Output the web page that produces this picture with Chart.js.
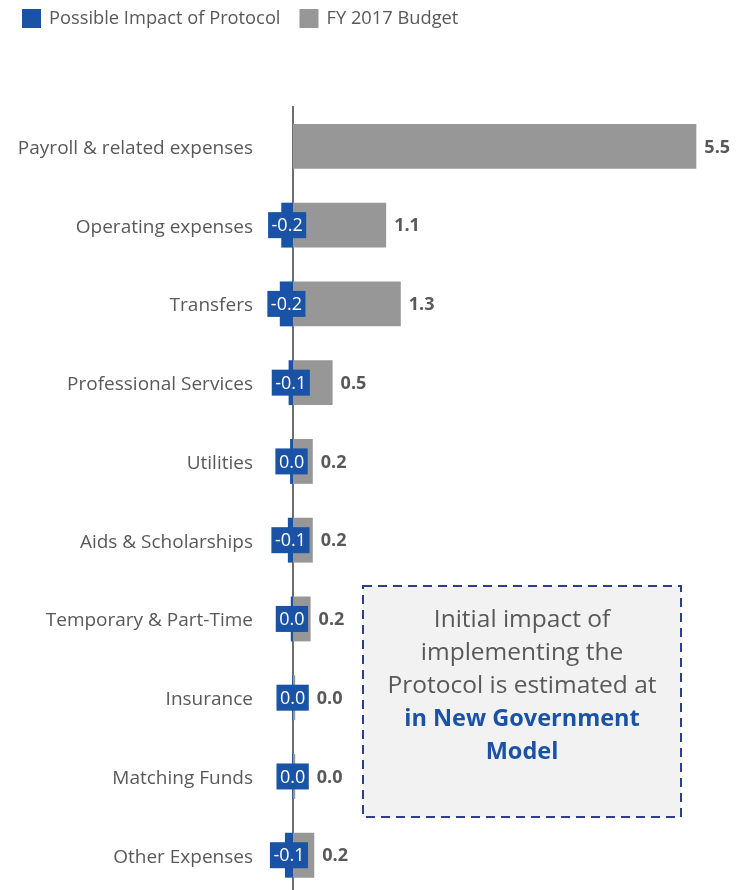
<!DOCTYPE html>
<html>
<head>
<meta charset="utf-8">
<script src="https://cdn.jsdelivr.net/npm/chart.js@4.4.1/dist/chart.umd.min.js"></script>
<style>
  html, body { margin: 0; padding: 0; background: #fff; overflow: hidden; height: 890px; }
  #wrap { position: relative; width: 746px; height: 946px; }
</style>
</head>
<body>
<div id="wrap"><canvas id="myChart"></canvas></div>
<script>
const categories = [
  'Payroll & related expenses', 'Operating expenses', 'Transfers', 'Professional Services',
  'Utilities', 'Aids & Scholarships', 'Temporary & Part-Time', 'Insurance',
  'Matching Funds', 'Other Expenses'
];
const impact = [null, -0.16, -0.18, -0.06, -0.04, -0.07, -0.03, -0.01, -0.01, -0.11]; // Possible Impact of Protocol
const budget = [5.5, 1.11, 1.29, 0.48, 0.23, 0.2, 0.21, 0.02, 0.02, 0.18];          // FY 2017 Budget
const seriesNames = ['Possible Impact of Protocol', 'FY 2017 Budget'];
const seriesColors = ['#1a53a5', '#979797'];

// grey bar in the original is drawn as budget less the (negative) impact
const budgetBar = budget.map((b, i) => b - (impact[i] || 0));

const FONT = "'Open Sans', Lato, sans-serif";
const fmt = (v) => { const r = Math.round(v * 10) / 10; return (r === 0 ? 0 : r).toFixed(1); };

const labelsPlugin = {
  id: 'valueLabels',
  afterDatasetsDraw(chart) {
    const ctx = chart.ctx;
    const blueRight = [];
    ctx.save();
    ctx.textBaseline = 'middle';
    // impact labels (white on blue box, centred on bar)
    chart.getDatasetMeta(0).data.forEach((bar, i) => {
      if (impact[i] === null) return;
      const txt = fmt(impact[i]);
      ctx.font = '18px ' + FONT;
      const w = ctx.measureText(txt).width + 7;
      const cx = (bar.x + bar.base) / 2;
      ctx.fillStyle = seriesColors[0];
      ctx.fillRect(cx - w / 2, bar.y - 13, w, 26);
      ctx.fillStyle = '#ffffff';
      ctx.textAlign = 'center';
      ctx.fillText(txt, cx, bar.y + 1);
      blueRight[i] = cx + w / 2;
    });
    // budget labels (bold grey, right of bar, kept clear of the blue box)
    chart.getDatasetMeta(1).data.forEach((bar, i) => {
      ctx.font = 'bold 18px ' + FONT;
      ctx.fillStyle = '#595959';
      ctx.textAlign = 'left';
      const x = Math.max(bar.x, blueRight[i] || 0) + 8;
      ctx.fillText(fmt(budget[i]), x, bar.y + 1);
    });
    ctx.restore();
  }
};

const extrasPlugin = {
  id: 'extras',
  afterDraw(chart) {
    const ctx = chart.ctx;
    ctx.save();
    // legend
    ctx.font = '18.3px ' + FONT;
    ctx.textBaseline = 'middle';
    ctx.textAlign = 'left';
    let x = 22;
    seriesNames.forEach((name, i) => {
      ctx.fillStyle = seriesColors[i];
      ctx.fillRect(x, 9, 19, 19);
      ctx.fillStyle = '#595959';
      ctx.fillText(name, x + 27, 19);
      x += 27 + ctx.measureText(name).width + 19;
    });
    // note box
    ctx.fillStyle = '#f2f2f2';
    ctx.fillRect(363, 586, 318, 231);
    ctx.setLineDash([9, 6]);
    ctx.lineWidth = 2;
    ctx.strokeStyle = '#2f3d8f';
    ctx.strokeRect(363, 586, 318, 231);
    ctx.setLineDash([]);
    ctx.textAlign = 'center';
    ctx.font = '24.5px ' + FONT;
    ctx.fillStyle = '#595959';
    ctx.fillText('Initial impact of', 522, 620);
    ctx.fillText('implementing the', 522, 653);
    ctx.fillText('Protocol is estimated at', 522, 686);
    ctx.font = 'bold 23.5px ' + FONT;
    ctx.fillStyle = '#1a53a5';
    ctx.fillText('in New Government', 522, 719);
    ctx.fillText('Model', 522, 752);
    ctx.restore();
  }
};

new Chart(document.getElementById('myChart'), {
  type: 'bar',
  data: {
    labels: categories,
    datasets: [
      { label: seriesNames[0], data: impact, backgroundColor: seriesColors[0], order: 0, clip: false },
      { label: seriesNames[1], data: budgetBar, backgroundColor: seriesColors[1], order: 1, clip: false }
    ]
  },
  options: {
    indexAxis: 'y',
    responsive: true,
    maintainAspectRatio: false,
    animation: false,
    grouped: false,
    barPercentage: 0.57,
    categoryPercentage: 1,
    layout: { padding: { top: 107, right: 13, bottom: 0, left: 0 } },
    plugins: { legend: { display: false }, tooltip: { enabled: false } },
    scales: {
      x: { min: 0, max: 6, display: false },
      y: {
        grid: { display: false, drawTicks: false },
        border: { display: true, color: '#6e6e70', width: 2 },
        ticks: { color: '#595959', font: { size: 19, family: FONT }, padding: 40, labelOffset: 2 },
        afterFit: (scale) => { scale.width = 293; }
      }
    }
  },
  plugins: [labelsPlugin, extrasPlugin]
});
</script>
</body>
</html>
